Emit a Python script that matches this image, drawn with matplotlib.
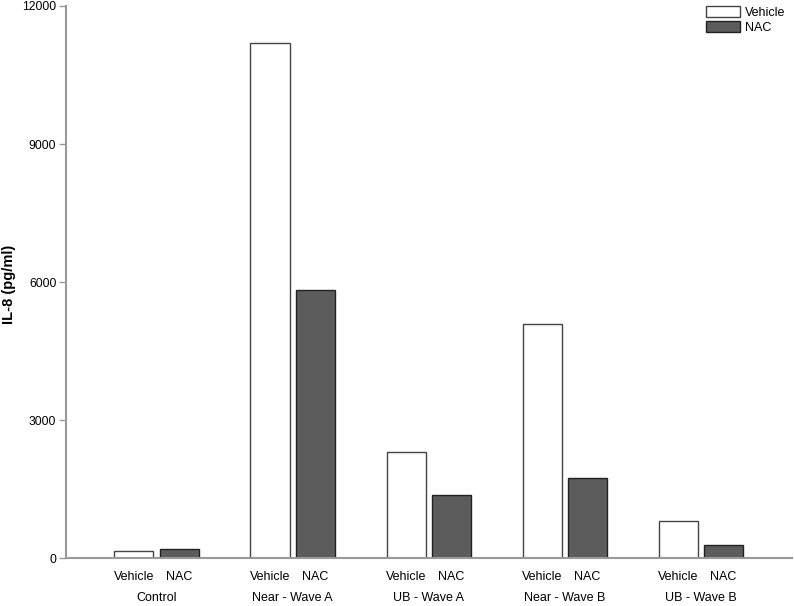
import numpy as np
import matplotlib.pyplot as plt

plt.rcParams['font.family'] = ['Liberation Sans', 'DejaVu Sans']

groups = ["Control", "Near - Wave A", "UB - Wave A", "Near - Wave B", "UB - Wave B"]
vehicle = [160, 11190, 2310, 5085, 805]
nac = [185, 5830, 1365, 1745, 275]
series = ["Vehicle", "NAC"]

fig = plt.figure(figsize=(7.94, 6.06), dpi=100)
ax = fig.add_axes([0.0831, 0.0792, 0.9144, 0.9109])

x = np.arange(len(groups))
w = 0.287
off = 0.166
ax.bar(x - off, vehicle, w, color="white", edgecolor="#444444", linewidth=1, label=series[0])
ax.bar(x + off, nac, w, color="#5c5c5c", edgecolor="#222222", linewidth=1, label=series[1])

ax.set_xlim(-0.665, 4.67)
ax.set_ylim(0, 12000)
ax.set_yticks([0, 3000, 6000, 9000, 12000])

pos = np.concatenate([x - off, x + off])
labs = [series[0]] * len(x) + [series[1]] * len(x)
ax.set_xticks(pos)
ax.set_xticklabels(labs)
ax.tick_params(axis="x", length=0, pad=9, labelsize=9)
ax.tick_params(axis="y", length=5, width=1, color="#999999", pad=2, labelsize=8.7)

for xi, g in zip(x, groups):
    ax.annotate(g, xy=(xi, 0), xycoords=("data", "axes fraction"),
                xytext=(0, -29), textcoords="offset points",
                ha="center", va="center", fontsize=9)

for s in ["top", "right"]:
    ax.spines[s].set_visible(False)
for s in ["left", "bottom"]:
    ax.spines[s].set_color("#999999")
    ax.spines[s].set_linewidth(1.5)

# y label placed by hand, the tick labels are close to the figure edge
fig.text(9 / 794, 1 - 284 / 606, "IL-8 (pg/ml)", rotation=90,
         ha="center", va="center", fontsize=10.5, fontweight="bold")

fig.legend(loc="upper left", bbox_to_anchor=(706 / 794, 1 - 6 / 606),
           frameon=False, fontsize=9, borderpad=0, borderaxespad=0,
           handlelength=2.7, handleheight=0.95, handletextpad=0.4,
           labelspacing=0.2)

fig.savefig("out.png", dpi=100)
